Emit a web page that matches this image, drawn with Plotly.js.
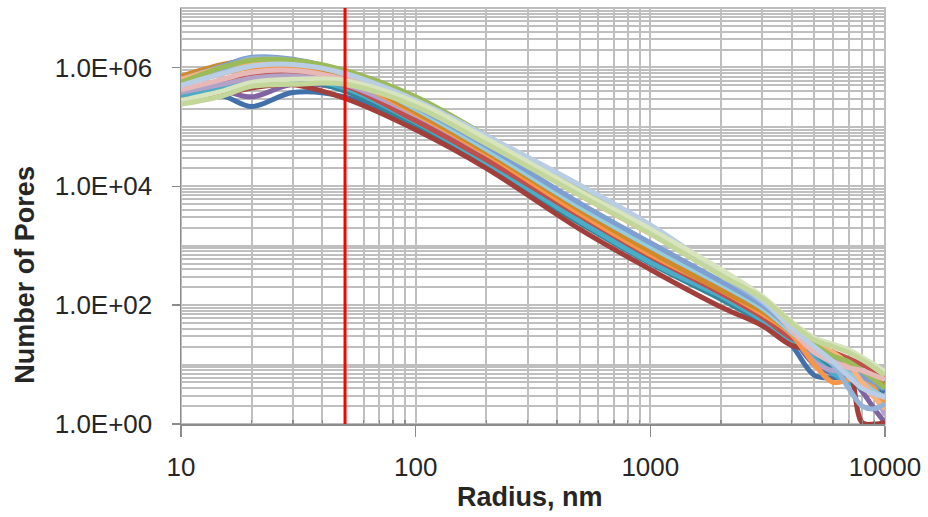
<!DOCTYPE html>
<html>
<head>
<meta charset="utf-8">
<script src="https://cdn.plot.ly/plotly-3.0.1.min.js"></script>
<style>
  html, body { margin: 0; padding: 0; background: #ffffff; }
  #chart { width: 928px; height: 517px; }
</style>
</head>
<body>
<div id="chart"></div>
<script>
// Radius (nm) sample points shared by every curve
const radius = [10, 15, 20, 30, 50, 100, 200, 500, 1000, 2000, 3000, 4000, 5000, 6000, 7000, 8000, 9000, 10000];

// Number of pores per sample
const sBlue        = [3.2e5, 3.3e5, 2.2e5, 3.8e5, 3.2e5, 1.1e5, 2.6e4, 2.8e3, 600, 141, 60, 21, 6.6, 6.0, 6.3, 5.0, 4.2, 3.5];
const sPurple      = [3.5e5, 4.0e5, 3.2e5, 5.2e5, 4.2e5, 1.3e5, 3.2e4, 3.5e3, 710, 178, 71, 28, 10, 7.1, 6.3, 3.5, 1.8, 1.05];
const sDarkAqua    = [3.2e5, 4.5e5, 5.6e5, 6.3e5, 4.0e5, 1.05e5, 2.2e4, 2.4e3, 500, 126, 52, 26, 14, 8.9, 7.1, 5.6, 5.0, 4.8];
const sAqua        = [3.2e5, 4.8e5, 6.0e5, 6.6e5, 4.5e5, 1.2e5, 2.5e4, 2.6e3, 525, 141, 56, 25, 12.6, 7.1, 5.0, 4.0, 4.2, 4.0];
const sDarkRed     = [2.8e5, 3.5e5, 4.5e5, 5.1e5, 3.0e5, 8.9e4, 2.0e4, 1.9e3, 398, 93, 45, 21, 17.8, 14.1, 8.9, 1.05, 1.0, 1.05];
const sRed         = [4.0e5, 6.0e5, 7.6e5, 7.9e5, 5.0e5, 1.26e5, 2.8e4, 3.2e3, 661, 158, 63, 28, 20, 16, 12.6, 10, 7.9, 6.3];
const sLightPurple = [3.8e5, 5.2e5, 6.6e5, 7.2e5, 5.2e5, 1.58e5, 3.5e4, 4.2e3, 890, 200, 79, 32, 11.2, 7.9, 7.9, 5.6, 3.2, 1.4];
const sOrange      = [5.0e5, 7.9e5, 1.0e6, 1.05e6, 6.6e5, 1.66e5, 3.5e4, 3.5e3, 710, 178, 71, 32, 10, 5.0, 5.6, 6.3, 4.0, 2.0];
const sGold        = [7.1e5, 1.12e6, 1.35e6, 1.2e6, 7.1e5, 1.78e5, 3.8e4, 4.0e3, 794, 178, 79, 35, 19, 12.6, 8.9, 7.1, 5.6, 4.5];
const sLightAqua   = [5.0e5, 8.3e5, 1.12e6, 1.2e6, 7.6e5, 2.0e5, 4.2e4, 4.5e3, 955, 224, 89, 35, 18, 11.2, 7.9, 5.0, 3.5, 2.8];
const sMidBlue     = [6.3e5, 1.05e6, 1.48e6, 1.38e6, 8.3e5, 2.2e5, 4.8e4, 5.2e3, 1120, 251, 100, 40, 20, 12.6, 8.9, 6.3, 5.0, 4.0];
const sLightOrange = [6.3e5, 1.0e6, 1.26e6, 1.26e6, 7.9e5, 2.4e5, 5.6e4, 7.1e3, 1580, 355, 132, 45, 22, 16, 10, 5.0, 2.8, 1.8];
const sLightBlue   = [5.6e5, 9.5e5, 1.41e6, 1.32e6, 8.5e5, 3.0e5, 6.8e4, 9.3e3, 2090, 316, 112, 40, 16, 10, 4.0, 2.0, 1.8, 2.2];
const sGreen       = [5.6e5, 1.0e6, 1.32e6, 1.32e6, 8.9e5, 3.2e5, 7.1e4, 9.5e3, 2000, 355, 126, 45, 22, 14, 11.2, 7.9, 5.6, 4.0];
const sPink        = [4.2e5, 6.3e5, 8.3e5, 8.9e5, 6.3e5, 2.5e5, 6.0e4, 7.9e3, 1780, 355, 126, 38, 16, 11.2, 8.9, 7.9, 6.6, 5.6];
const sPaleBlue    = [5.0e5, 7.9e5, 1.05e6, 1.12e6, 7.9e5, 2.8e5, 7.1e4, 1.05e4, 2240, 355, 120, 42, 20, 11.2, 6.3, 4.0, 3.2, 2.8];
const sPaleGreen   = [2.8e5, 4.0e5, 5.6e5, 6.3e5, 6.0e5, 2.6e5, 6.3e4, 8.3e3, 1900, 398, 141, 52, 28, 22, 17.8, 13.2, 10, 7.6];
const sLightGreen  = [2.4e5, 3.3e5, 4.8e5, 5.2e5, 5.2e5, 2.2e5, 5.2e4, 7.1e3, 1580, 316, 132, 50, 26, 20, 16, 12, 8.9, 6.6];

const seriesList = [sBlue, sPurple, sDarkAqua, sAqua, sDarkRed, sRed, sLightPurple, sOrange, sGold,
                    sLightAqua, sMidBlue, sLightOrange, sLightBlue, sGreen, sPink, sPaleBlue, sPaleGreen, sLightGreen];
const seriesColors = ['#4170AA', '#8064A2', '#31859C', '#4BACC6', '#A23F3B', '#C0504D', '#B3A2C7', '#F79646', '#D08A2E',
                      '#93CDDD', '#7E9FD0', '#FAB27A', '#95B3D7', '#9BBB59', '#E6B9B8', '#B9CDE5', '#D7E4BD', '#C4D79B'];

// Axis ticks
const xTickVals = [10, 100, 1000, 10000];
const xTickText = ['10', '100', '1000', '10000'];
const yTickVals = [1, 100, 10000, 1000000];
const yTickText = ['1.0E+00', '1.0E+02', '1.0E+04', '1.0E+06'];
const cutoffRadius = 50;

// minor grid positions (1..9 x each decade)
function minorVals(d0, d1, majors) {
  const out = [];
  for (let d = d0; d <= d1; d++) {
    for (let k = 1; k <= 9; k++) {
      const v = k * Math.pow(10, d);
      if (majors.indexOf(v) === -1) out.push(v);
    }
  }
  return out;
}
const yMinor = minorVals(0, 6, yTickVals).concat([1e7]);
const xMinor = minorVals(1, 3, xTickVals);

const traces = seriesList.map((ys, i) => ({
  type: 'scatter', mode: 'lines',
  x: radius, y: ys,
  line: { color: seriesColors[i], width: 5, shape: 'spline', smoothing: 1 },
  hoverinfo: 'skip', showlegend: false
}));

const gridCol = '#BFBFBF';
const layout = {
  width: 928, height: 517,
  margin: { l: 181, r: 43, t: 8, b: 93 },
  paper_bgcolor: '#ffffff', plot_bgcolor: '#ffffff',
  showlegend: false,
  font: { family: 'Liberation Sans, Arial, sans-serif', color: '#262626' },
  xaxis: {
    type: 'log', range: [1, 4],
    tickmode: 'array', tickvals: xTickVals, ticktext: xTickText,
    tickfont: { size: 26, color: '#262626' },
    ticks: 'outside', ticklen: 11, tickcolor: '#8C8C8C', tickwidth: 1.5,
    ticklabelstandoff: 8,
    showgrid: true, gridcolor: gridCol, gridwidth: 2,
    minor: { tickmode: 'array', tickvals: xMinor, showgrid: true, gridcolor: gridCol, gridwidth: 2,
             ticks: 'inside', ticklen: 4, tickcolor: '#8C8C8C' },
    showline: true, linecolor: '#8C8C8C', linewidth: 1.5, mirror: false,
    zeroline: false
  },
  yaxis: {
    type: 'log', range: [0, 7],
    tickmode: 'array', tickvals: yTickVals, ticktext: yTickText,
    tickfont: { size: 26, color: '#262626' },
    ticks: 'outside', ticklen: 8, tickcolor: '#8C8C8C', tickwidth: 1.5,
    ticklabelstandoff: 14,
    showgrid: true, gridcolor: gridCol, gridwidth: 2,
    minor: { tickmode: 'array', tickvals: yMinor, showgrid: true, gridcolor: gridCol, gridwidth: 2 },
    showline: true, linecolor: '#8C8C8C', linewidth: 1.5, mirror: false,
    zeroline: false
  },
  shapes: [
    { type: 'rect', xref: 'paper', yref: 'paper', x0: 0, x1: 1, y0: 0, y1: 1,
      line: { color: '#BDBDBD', width: 2 }, fillcolor: 'rgba(0,0,0,0)', layer: 'below' },
    { type: 'line', xref: 'x', yref: 'paper', x0: cutoffRadius, x1: cutoffRadius, y0: 0, y1: 1,
      line: { color: '#FF0000', width: 3 } }
  ],
  annotations: [
    { text: 'Radius, nm', xref: 'paper', yref: 'paper', x: 0.496, y: -0.175,
      xanchor: 'center', yanchor: 'middle', showarrow: false,
      font: { size: 27, color: '#262626', family: 'Liberation Sans, Arial, sans-serif', weight: 'bold' } },
    { text: 'Number of Pores', xref: 'paper', yref: 'paper', x: -0.2216, y: 0.359,
      xanchor: 'center', yanchor: 'middle', textangle: -90, showarrow: false,
      font: { size: 27, color: '#262626', family: 'Liberation Sans, Arial, sans-serif', weight: 'bold' } }
  ]
};

Plotly.newPlot('chart', traces, layout, { staticPlot: true, displayModeBar: false });
</script>
</body>
</html>
